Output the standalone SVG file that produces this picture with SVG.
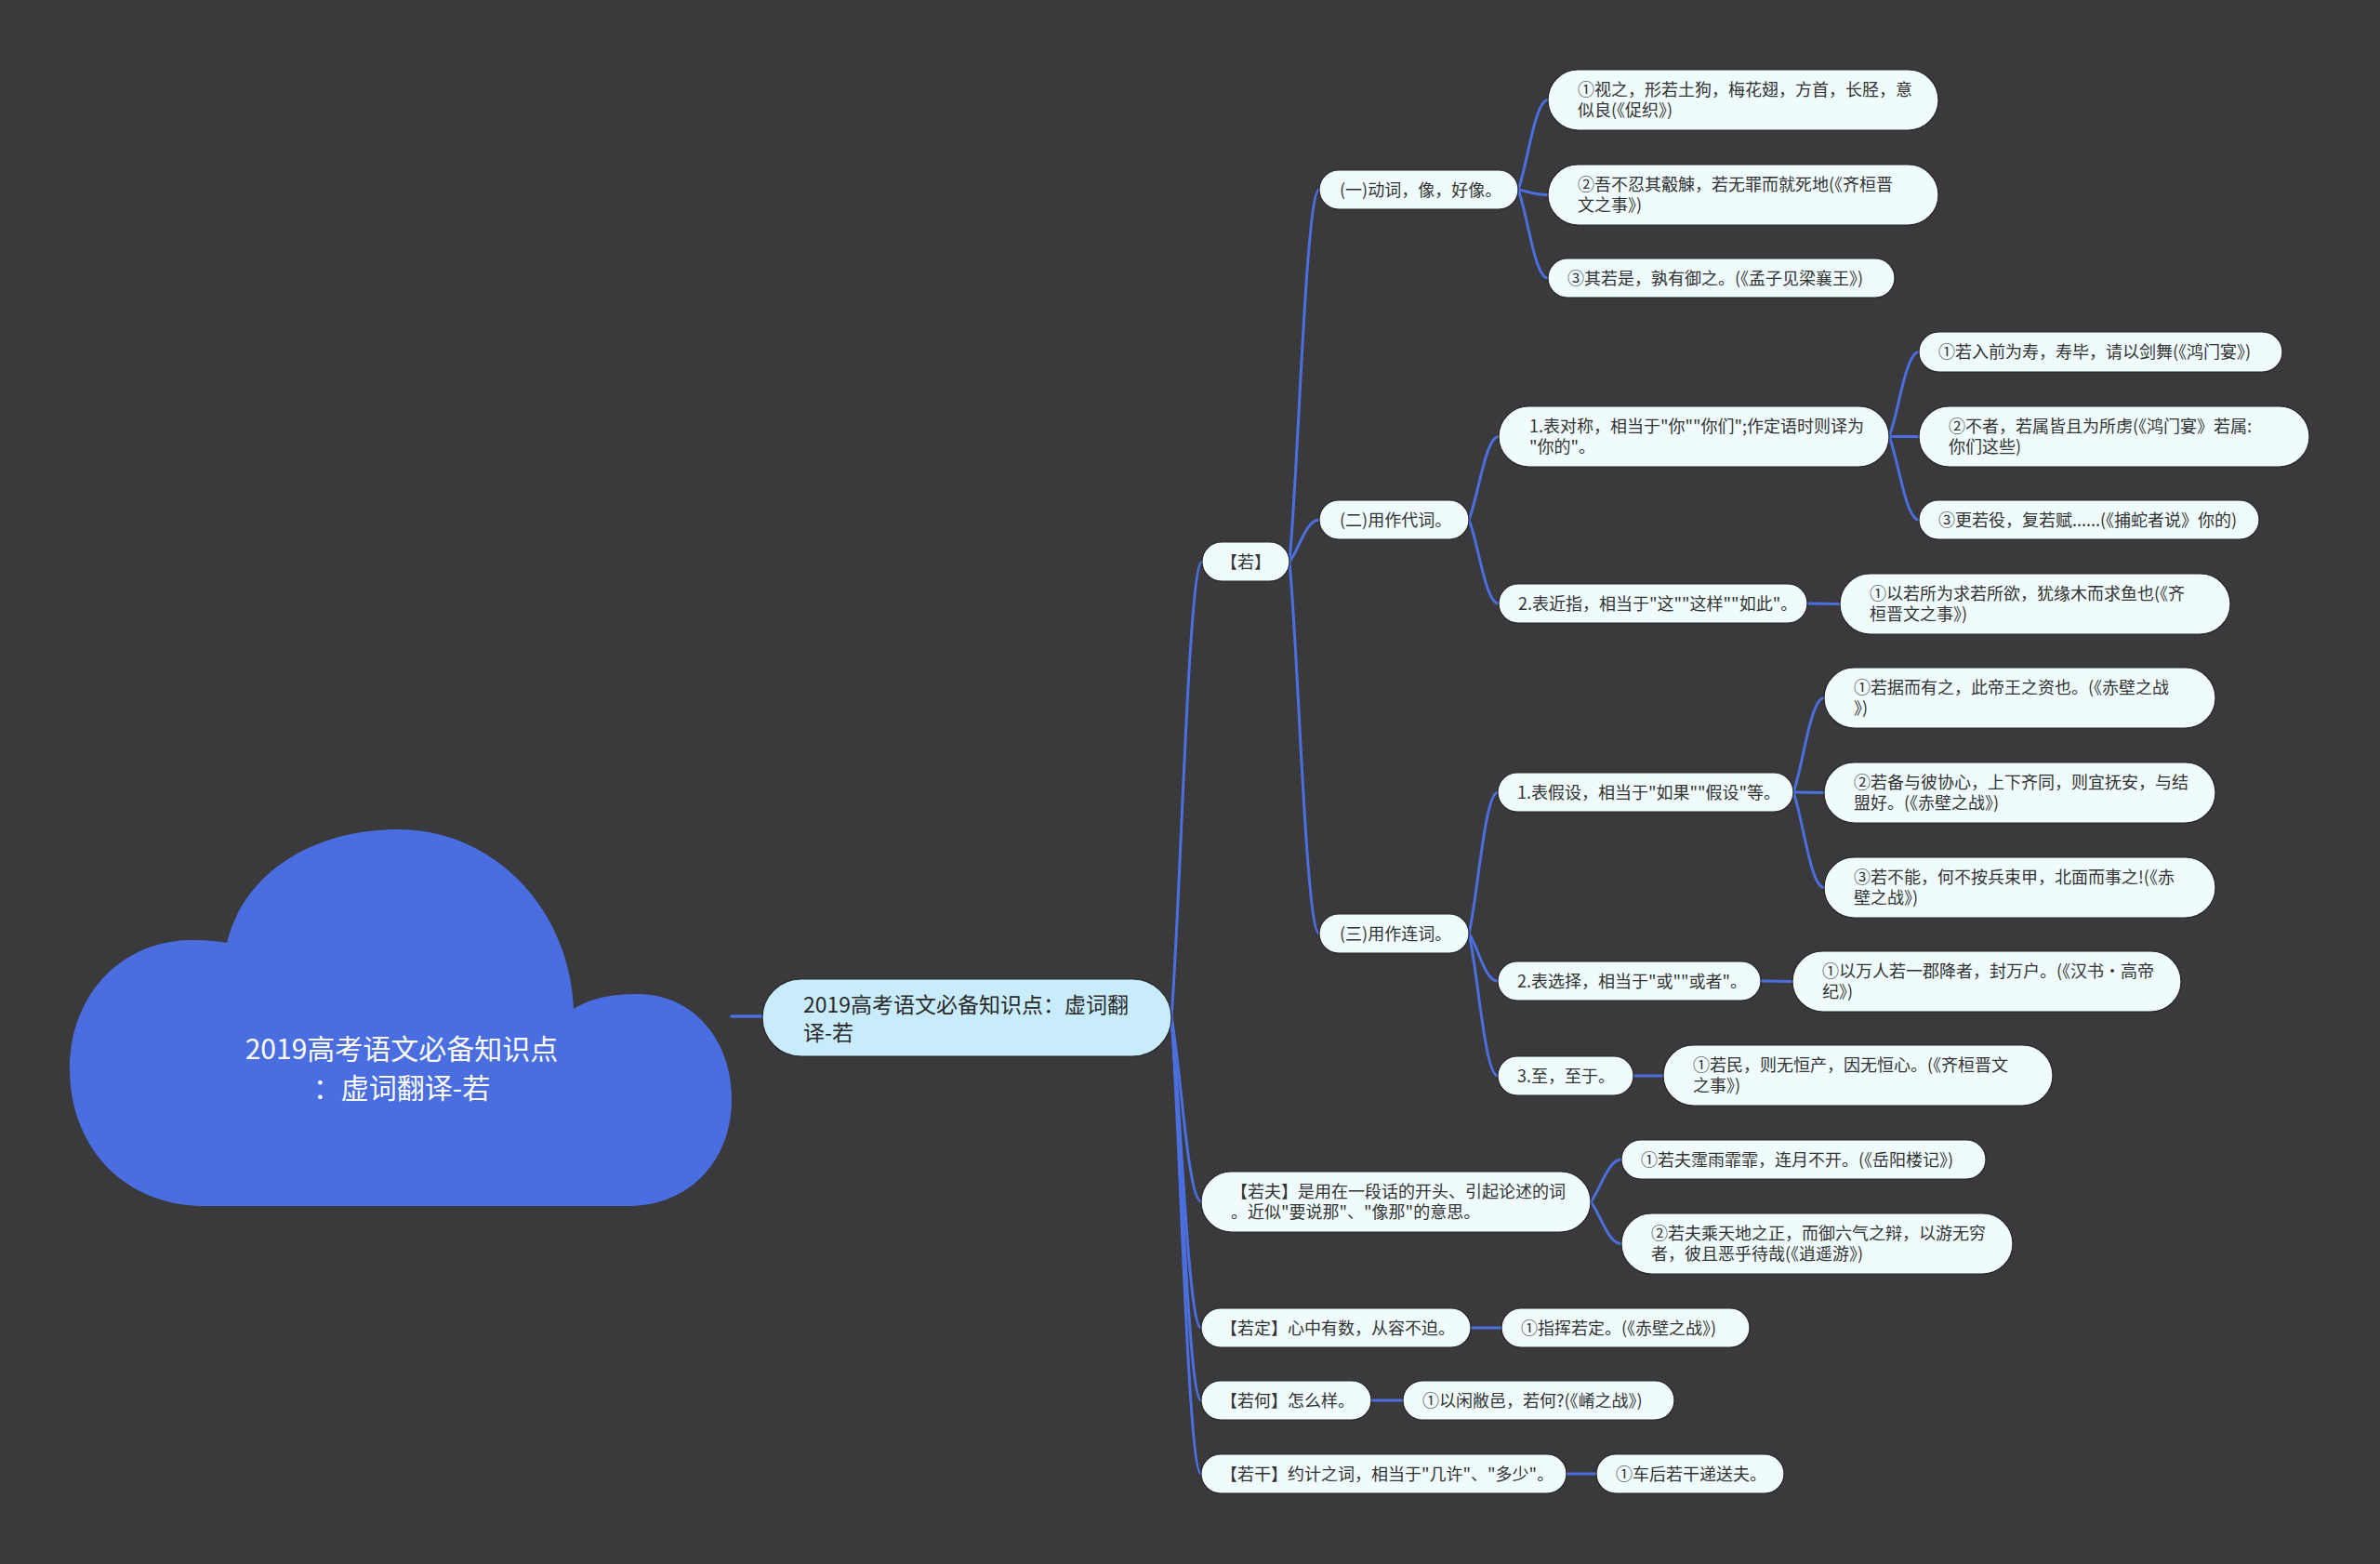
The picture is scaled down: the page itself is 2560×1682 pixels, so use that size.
<svg xmlns="http://www.w3.org/2000/svg" width="2560" height="1682" viewBox="0 0 2560 1682">
<style>
.n{fill:#f0fbfd;stroke:#262626;stroke-width:1.2}
.m{fill:#c9ecfc;stroke:#262626;stroke-width:1.2}
.t{font-family:"Noto Sans CJK SC","Noto Sans",sans-serif;font-size:18px;fill:#333}
.tm{font-family:"Noto Sans CJK SC","Noto Sans",sans-serif;font-size:23px;fill:#2a2a2a}
.tc{font-family:"Noto Sans CJK SC","Noto Sans",sans-serif;font-size:30px;fill:#ffffff;text-anchor:middle}
.c path{fill:none;stroke:#4b6fdf;stroke-width:3;stroke-linecap:round}
</style>
<rect width="2560" height="1682" fill="#3a393c"/>
<g class="c" id="connectors">
<path d="M787 1093 L820 1093" style="stroke-width:3.5"/>
<path d="M1260 1094 C1269.9 971.5 1278.2 604 1293 604"/>
<path d="M1260 1094 C1269.6 1143.5 1277.6 1292 1292 1292"/>
<path d="M1260 1094 C1269.6 1177.5 1277.6 1428 1292 1428"/>
<path d="M1260 1094 C1269.6 1197 1277.6 1506 1292 1506"/>
<path d="M1260 1094 C1269.6 1216.75 1277.6 1585 1292 1585"/>
<path d="M1387 604 C1396.6 504 1404.6 204 1419 204"/>
<path d="M1387 604 C1396.6 592.75 1404.6 559 1419 559"/>
<path d="M1387 604 C1396.6 704 1404.6 1004 1419 1004"/>
<path d="M1633 204 C1642.6 179.9 1650.6 107.5 1665 107.5"/>
<path d="M1633 204 C1642.6 205.4 1650.6 209.5 1665 209.5"/>
<path d="M1633 204 C1642.6 227.75 1650.6 299 1665 299"/>
<path d="M1580 559 C1589.6 536.6 1597.6 469.5 1612 469.5"/>
<path d="M1580 559 C1589.6 581.5 1597.6 649 1612 649"/>
<path d="M2032 469.5 C2041.6 446.75 2049.6 378.5 2064 378.5"/>
<path d="M2032 469.5 L2064 469.5"/>
<path d="M2032 469.5 C2041.6 491.9 2049.6 559 2064 559"/>
<path d="M1944 649 L1979 649.5"/>
<path d="M1580 1004 C1589.3 966 1597 852 1611 852"/>
<path d="M1580 1004 C1589.3 1016.75 1597 1055 1611 1055"/>
<path d="M1580 1004 C1589.3 1042.25 1597 1157 1611 1157"/>
<path d="M1929 852 C1938.9 826.6 1947.2 750.5 1962 750.5"/>
<path d="M1929 852 L1962 852.5"/>
<path d="M1929 852 C1938.9 877.6 1947.2 954.5 1962 954.5"/>
<path d="M1894 1055 L1928 1055.5"/>
<path d="M1757 1157 L1789 1157"/>
<path d="M1711 1292.5 C1720.9 1281.1 1729.2 1247 1744 1247"/>
<path d="M1711 1292.5 C1720.9 1303.75 1729.2 1337.5 1744 1337.5"/>
<path d="M1582 1428 L1615 1428"/>
<path d="M1475 1506 L1509 1506"/>
<path d="M1685 1585 L1717 1585"/>
</g>
<g id="root">
<path d="M220 1297 C130 1297 75 1230 75 1150 C75 1070 130 1012 205 1011 C220 1011 235 1012 244 1014 C262 940 335 892 428 892 C530 892 612 975 617 1085 C638 1072 660 1069 686 1069 C745 1069 787 1118 787 1182 C787 1250 740 1297 676 1297 Z" fill="#4a6ee0"/>
<text class="tc" x="432" y="1139">2019高考语文必备知识点</text>
<text class="tc" x="432" y="1181">：虚词翻译-若</text>
</g>
<g id="main">
<rect class="m" x="820" y="1053" width="440" height="83" rx="41.5"/>
<text class="tm" x="864" y="1089">2019高考语文必备知识点：虚词翻</text>
<text class="tm" x="864" y="1119">译-若</text>
</g>
<g id="n-ruo">
<rect class="n" x="1293" y="583" width="94" height="42" rx="21"/>
<text class="t" x="1340" y="611" text-anchor="middle">【若】</text>
</g>
<g id="n-1">
<rect class="n" x="1419" y="183" width="214" height="42" rx="21"/>
<text class="t" x="1441" y="211">(一)动词，像，好像。</text>
</g>
<g id="n-1a">
<rect class="n" x="1665" y="75" width="420" height="65" rx="32.5"/>
<text class="t" x="1697" y="103">①视之，形若土狗，梅花翅，方首，长胫，意</text>
<text class="t" x="1697" y="125">似良(《促织》)</text>
</g>
<g id="n-1b">
<rect class="n" x="1665" y="177" width="420" height="65" rx="32.5"/>
<text class="t" x="1697" y="205">②吾不忍其觳觫，若无罪而就死地(《齐桓晋</text>
<text class="t" x="1697" y="227">文之事》)</text>
</g>
<g id="n-1c">
<rect class="n" x="1665" y="278" width="373" height="42" rx="21"/>
<text class="t" x="1686" y="306">③其若是，孰有御之。(《孟子见梁襄王》)</text>
</g>
<g id="n-2">
<rect class="n" x="1419" y="538" width="161" height="42" rx="21"/>
<text class="t" x="1441" y="566">(二)用作代词。</text>
</g>
<g id="n-2-1">
<rect class="n" x="1612" y="437" width="420" height="65" rx="32.5"/>
<text class="t" x="1645" y="465">1.表对称，相当于"你""你们";作定语时则译为</text>
<text class="t" x="1645" y="487">"你的"。</text>
</g>
<g id="n-2-1a">
<rect class="n" x="2064" y="357" width="391" height="43" rx="21.5"/>
<text class="t" x="2085" y="385">①若入前为寿，寿毕，请以剑舞(《鸿门宴》)</text>
</g>
<g id="n-2-1b">
<rect class="n" x="2064" y="437" width="420" height="65" rx="32.5"/>
<text class="t" x="2096" y="465">②不者，若属皆且为所虏(《鸿门宴》若属:</text>
<text class="t" x="2096" y="487">你们这些)</text>
</g>
<g id="n-2-1c">
<rect class="n" x="2064" y="538" width="366" height="42" rx="21"/>
<text class="t" x="2085" y="566">③更若役，复若赋......(《捕蛇者说》你的)</text>
</g>
<g id="n-2-2">
<rect class="n" x="1612" y="628" width="332" height="42" rx="21"/>
<text class="t" x="1633" y="656">2.表近指，相当于"这""这样""如此"。</text>
</g>
<g id="n-2-2a">
<rect class="n" x="1979" y="617" width="420" height="65" rx="32.5"/>
<text class="t" x="2011" y="645">①以若所为求若所欲，犹缘木而求鱼也(《齐</text>
<text class="t" x="2011" y="667">桓晋文之事》)</text>
</g>
<g id="n-3">
<rect class="n" x="1419" y="983" width="161" height="42" rx="21"/>
<text class="t" x="1441" y="1011">(三)用作连词。</text>
</g>
<g id="n-3-1">
<rect class="n" x="1611" y="831" width="318" height="42" rx="21"/>
<text class="t" x="1632" y="859">1.表假设，相当于"如果""假设"等。</text>
</g>
<g id="n-3-1a">
<rect class="n" x="1962" y="718" width="421" height="65" rx="32.5"/>
<text class="t" x="1994" y="746">①若据而有之，此帝王之资也。(《赤壁之战</text>
<text class="t" x="1994" y="768">》)</text>
</g>
<g id="n-3-1b">
<rect class="n" x="1962" y="820" width="421" height="65" rx="32.5"/>
<text class="t" x="1994" y="848">②若备与彼协心，上下齐同，则宜抚安，与结</text>
<text class="t" x="1994" y="870">盟好。(《赤壁之战》)</text>
</g>
<g id="n-3-1c">
<rect class="n" x="1962" y="922" width="421" height="65" rx="32.5"/>
<text class="t" x="1994" y="950">③若不能，何不按兵束甲，北面而事之!(《赤</text>
<text class="t" x="1994" y="972">壁之战》)</text>
</g>
<g id="n-3-2">
<rect class="n" x="1611" y="1034" width="283" height="42" rx="21"/>
<text class="t" x="1632" y="1062">2.表选择，相当于"或""或者"。</text>
</g>
<g id="n-3-2a">
<rect class="n" x="1928" y="1023" width="418" height="65" rx="32.5"/>
<text class="t" x="1960" y="1051">①以万人若一郡降者，封万户。(《汉书·高帝</text>
<text class="t" x="1960" y="1073">纪》)</text>
</g>
<g id="n-3-3">
<rect class="n" x="1611" y="1136" width="146" height="42" rx="21"/>
<text class="t" x="1632" y="1164">3.至，至于。</text>
</g>
<g id="n-3-3a">
<rect class="n" x="1789" y="1124" width="419" height="65" rx="32.5"/>
<text class="t" x="1821" y="1152">①若民，则无恒产，因无恒心。(《齐桓晋文</text>
<text class="t" x="1821" y="1174">之事》)</text>
</g>
<g id="n-ruofu">
<rect class="n" x="1292" y="1260" width="419" height="65" rx="32.5"/>
<text class="t" x="1324" y="1288">【若夫】是用在一段话的开头、引起论述的词</text>
<text class="t" x="1324" y="1310">。近似"要说那"、"像那"的意思。</text>
</g>
<g id="n-ruofu-a">
<rect class="n" x="1744" y="1226" width="392" height="42" rx="21"/>
<text class="t" x="1765" y="1254">①若夫霪雨霏霏，连月不开。(《岳阳楼记》)</text>
</g>
<g id="n-ruofu-b">
<rect class="n" x="1744" y="1305" width="421" height="65" rx="32.5"/>
<text class="t" x="1776" y="1333">②若夫乘天地之正，而御六气之辩，以游无穷</text>
<text class="t" x="1776" y="1355">者，彼且恶乎待哉(《逍遥游》)</text>
</g>
<g id="n-ruoding">
<rect class="n" x="1292" y="1407" width="290" height="42" rx="21"/>
<text class="t" x="1313" y="1435">【若定】心中有数，从容不迫。</text>
</g>
<g id="n-ruoding-a">
<rect class="n" x="1615" y="1407" width="267" height="42" rx="21"/>
<text class="t" x="1636" y="1435">①指挥若定。(《赤壁之战》)</text>
</g>
<g id="n-ruohe">
<rect class="n" x="1292" y="1485" width="183" height="42" rx="21"/>
<text class="t" x="1313" y="1513">【若何】怎么样。</text>
</g>
<g id="n-ruohe-a">
<rect class="n" x="1509" y="1485" width="292" height="42" rx="21"/>
<text class="t" x="1530" y="1513">①以闲敝邑，若何?(《崤之战》)</text>
</g>
<g id="n-ruogan">
<rect class="n" x="1292" y="1564" width="393" height="42" rx="21"/>
<text class="t" x="1313" y="1592">【若干】约计之词，相当于"几许"、"多少"。</text>
</g>
<g id="n-ruogan-a">
<rect class="n" x="1717" y="1564" width="202" height="42" rx="21"/>
<text class="t" x="1738" y="1592">①车后若干递送夫。</text>
</g>
</svg>
